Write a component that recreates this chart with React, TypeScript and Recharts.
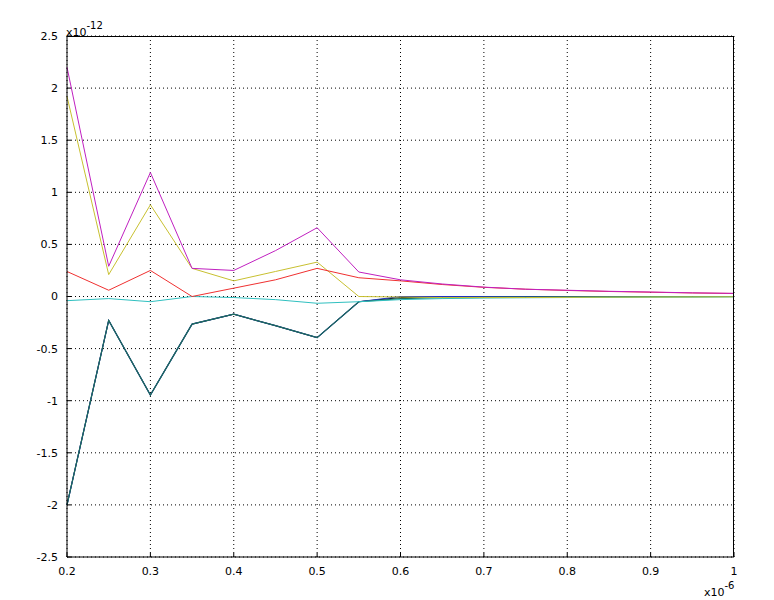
import { LineChart, Line, XAxis, YAxis, CartesianGrid } from 'recharts';

const xs = [0.2, 0.25, 0.3, 0.35, 0.4, 0.45, 0.5, 0.55, 0.6, 0.65, 0.7, 0.75, 0.8, 0.85, 0.9, 0.95, 1.0];
const magenta = [2.2, 0.29, 1.19, 0.27, 0.25, 0.44, 0.66, 0.235, 0.16, 0.12, 0.09, 0.07, 0.06, 0.05, 0.043, 0.035, 0.03];
const yellow = [1.92, 0.21, 0.88, 0.27, 0.15, 0.24, 0.33, 0.0, -0.005, -0.01, -0.01, -0.01, -0.008, -0.006, -0.005, -0.004, -0.003];
const red = [0.24, 0.06, 0.25, 0.0, 0.08, 0.16, 0.27, 0.18, 0.15, 0.115, 0.088, 0.07, 0.058, 0.048, 0.041, 0.034, 0.029];
const cyan = [-0.04, -0.02, -0.05, 0.0, -0.01, -0.03, -0.065, -0.05, -0.03, -0.02, -0.015, -0.012, -0.01, -0.008, -0.006, -0.005, -0.004];
const blue = [-2.0, -0.23, -0.945, -0.265, -0.17, -0.28, -0.395, -0.05, 0.0, 0.0, 0.0, 0.0, 0.0, 0.0, 0.0, 0.0, 0.0];
const black = [-2.0, -0.23, -0.945, -0.265, -0.17, -0.28, -0.395, -0.05, -0.01, -0.004, -0.002, 0.0, 0.0, 0.0, 0.0, 0.0, 0.0];
const teal = [-2.0, -0.23, -0.945, -0.265, -0.17, -0.28, -0.395, -0.05, -0.02, -0.012, -0.008, -0.006, -0.004, -0.003, -0.002, -0.001, 0.0];

const xTicks = [0.2, 0.3, 0.4, 0.5, 0.6, 0.7, 0.8, 0.9, 1];
const yTicks = [-2.5, -2, -1.5, -1, -0.5, 0, 0.5, 1, 1.5, 2, 2.5];

const data = xs.map((x, i) => ({
  x,
  magenta: magenta[i],
  yellow: yellow[i],
  red: red[i],
  cyan: cyan[i],
  blue: blue[i],
  black: black[i],
  teal: teal[i],
}));

const font = { fontFamily: 'DejaVu Sans', fontSize: 11, fill: '#000' };

export default function App() {
  return (
    <div style={{ position: 'absolute', left: 0, top: 0, width: 774, height: 600, background: '#fff' }}>
      <LineChart width={774} height={600} data={data} margin={{ top: 36, right: 40, bottom: 0, left: 0 }}>
        <CartesianGrid stroke="#000" strokeDasharray="1 3" />
        <XAxis
          dataKey="x"
          type="number"
          domain={[0.2, 1]}
          ticks={xTicks}
          height={43}
          stroke="#000"
          tickSize={-4}
          tickMargin={14}
          tick={font}
        />
        <YAxis
          type="number"
          domain={[-2.5, 2.5]}
          ticks={yTicks}
          width={67}
          stroke="#000"
          tickSize={-4}
          tickMargin={13}
          tick={font}
        />
        <Line dataKey="black" stroke="#000" dot={false} strokeWidth={1} isAnimationActive={false} />
        <Line dataKey="blue" stroke="#2030c0" dot={false} strokeWidth={1.2} isAnimationActive={false} />
        <Line dataKey="teal" stroke="#1e6e5a" dot={false} strokeWidth={1.2} isAnimationActive={false} />
        <Line dataKey="cyan" stroke="#30c0c0" dot={false} strokeWidth={1} isAnimationActive={false} />
        <Line dataKey="yellow" stroke="#c8c030" dot={false} strokeWidth={1} isAnimationActive={false} />
        <Line dataKey="red" stroke="#f03030" dot={false} strokeWidth={1} isAnimationActive={false} />
        <Line dataKey="magenta" stroke="#c020c0" dot={false} strokeWidth={1} isAnimationActive={false} />
      </LineChart>
      {/* plot frame */}
      <div
        style={{
          position: 'absolute',
          left: 67,
          top: 36,
          width: 667,
          height: 521,
          borderTop: '1px solid #000',
          borderRight: '1px solid #000',
          boxSizing: 'border-box',
          pointerEvents: 'none',
          zIndex: 10,
        }}
      />
      <div style={{ position: 'absolute', left: 66, top: 22, fontFamily: 'DejaVu Sans', fontSize: 11 }}>
        x10<sup style={{ fontSize: 10, position: 'relative', top: -2 }}>-12</sup>
      </div>
      <div style={{ position: 'absolute', left: 704, top: 582, fontFamily: 'DejaVu Sans', fontSize: 11 }}>
        x10<sup style={{ fontSize: 10, position: 'relative', top: -2 }}>-6</sup>
      </div>
    </div>
  );
}
